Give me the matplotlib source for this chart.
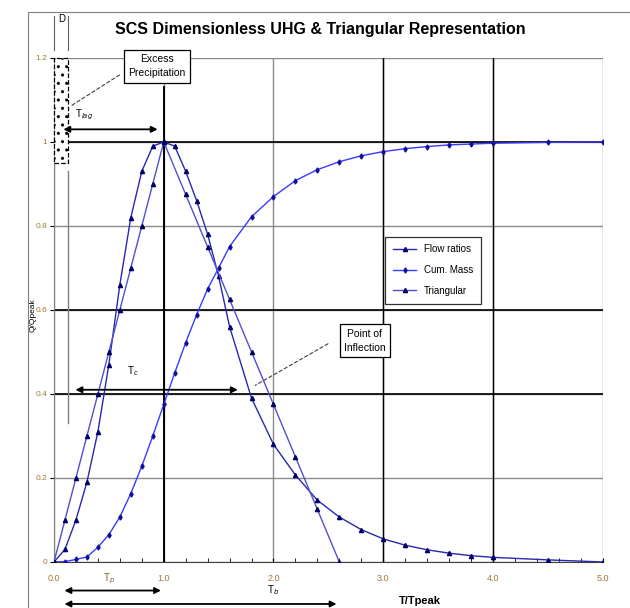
import numpy as np
import matplotlib
matplotlib.use('Agg')
import matplotlib.pyplot as plt
from matplotlib.patches import Rectangle

plt.rcParams['font.family'] = ['Liberation Sans Narrow', 'Liberation Sans', 'DejaVu Sans']

# SCS dimensionless unit hydrograph table
t_ratio = [0.0, 0.1, 0.2, 0.3, 0.4, 0.5, 0.6, 0.7, 0.8, 0.9, 1.0, 1.1, 1.2, 1.3, 1.4, 1.5,
           1.6, 1.8, 2.0, 2.2, 2.4, 2.6, 2.8, 3.0, 3.2, 3.4, 3.6, 3.8, 4.0, 4.5, 5.0]
flow_ratio = [0.0, 0.03, 0.10, 0.19, 0.31, 0.47, 0.66, 0.82, 0.93, 0.99, 1.00, 0.99, 0.93, 0.86,
              0.78, 0.68, 0.56, 0.39, 0.28, 0.207, 0.147, 0.107, 0.077, 0.055, 0.040, 0.029,
              0.021, 0.015, 0.011, 0.005, 0.0]
cum_mass = [0.0, 0.001, 0.006, 0.012, 0.035, 0.065, 0.107, 0.163, 0.228, 0.300, 0.375, 0.450,
            0.522, 0.589, 0.650, 0.700, 0.751, 0.822, 0.870, 0.908, 0.934, 0.953, 0.967, 0.977,
            0.984, 0.989, 0.993, 0.995, 0.997, 0.999, 1.0]

# triangular representation
tri_t = [0.0, 0.1, 0.2, 0.3, 0.4, 0.5, 0.6, 0.7, 0.8, 0.9, 1.0, 1.2, 1.4, 1.6, 1.8, 2.0, 2.2, 2.4, 2.6]
tri_q = [0.0, 0.1, 0.2, 0.3, 0.4, 0.5, 0.6, 0.7, 0.8, 0.9, 1.0, 0.875, 0.75, 0.625, 0.5, 0.375,
         0.25, 0.125, 0.0]

x_ticks = [0, 1, 2, 3, 4, 5]
x_labels = ['0.0', '1.0', '2.0', '3.0', '4.0', '5.0']
y_ticks = [0, 0.2, 0.4, 0.6, 0.8, 1.0, 1.2]
y_labels = ['0', '0.2', '0.4', '0.6', '0.8', '1', '1.2']

tick_col = '#a07838'

fig = plt.figure(figsize=(6.3, 6.08), dpi=100)
fig.patches.append(Rectangle((0.045, -0.01), 0.96, 0.99, transform=fig.transFigure,
                             fill=False, edgecolor='#808080', linewidth=0.8))
ax = fig.add_axes([0.0857, 0.0757, 0.871, 0.829])

ax.plot(t_ratio, flow_ratio, color='#2828b0', linewidth=1.0, marker='^', markersize=3,
        markerfacecolor='#000070', markeredgecolor='#000070', label='Flow ratios', zorder=4)
ax.plot(t_ratio, cum_mass, color='#3a3aff', linewidth=1.0, marker='d', markersize=2.6,
        markerfacecolor='#1010a0', markeredgecolor='#1010a0', label='Cum. Mass', zorder=4)
ax.plot(tri_t, tri_q, color='#5050d0', linewidth=1.0, marker='^', markersize=3,
        markerfacecolor='#000060', markeredgecolor='#000060', label='Triangular', zorder=4)

ax.set_xlim(0, 5)
ax.set_ylim(0, 1.2)
ax.set_xticks(x_ticks)
ax.set_xticklabels(x_labels, color=tick_col, fontsize=6.5)
ax.set_xticks(np.arange(0, 5.01, 0.2), minor=True)
ax.set_yticks(y_ticks)
ax.set_yticklabels(y_labels, color=tick_col, fontsize=6)
ax.tick_params(axis='x', which='both', direction='in', length=3, pad=9)
ax.tick_params(axis='y', direction='out', length=3, pad=2)
ax.grid(True, which='major', color='#8a8a8a', linewidth=1.0)
for yy in [0.4, 0.6, 1.0]:
    ax.axhline(yy, color='black', linewidth=1.2, zorder=2)
for xx in [3, 4]:
    ax.axvline(xx, color='black', linewidth=1.0, zorder=2)
ax.plot([1, 1], [0, 1.13], color='black', linewidth=1.4, zorder=2, clip_on=False)
for s in ['top', 'right']:
    ax.spines[s].set_visible(False)
ax.spines['left'].set_color('#808080')
ax.spines['bottom'].set_color('#404040')

ax.text(3.33, -0.093, 'T/Tpeak', fontsize=8, fontweight='bold', ha='center', va='center')
fig.text(33 / 630, 0.482, 'Q/Qpeak', fontsize=6, rotation=90, ha='center', va='center')
ax.set_title('SCS Dimensionless UHG & Triangular Representation', fontsize=11.5,
             fontweight='bold', x=0.486, pad=17)

leg = ax.legend(loc='upper left', bbox_to_anchor=(0.595, 0.655), fontsize=7,
                frameon=True, fancybox=False, edgecolor='black', handlelength=2.4,
                borderpad=0.8, labelspacing=1.1)
leg.get_frame().set_linewidth(0.9)
leg.set_zorder(6)

# excess precipitation bar
ax.add_patch(Rectangle((0.0, 0.95), 0.13, 0.25, fill=True, facecolor='white', hatch='..',
                       edgecolor='black', linestyle='--', linewidth=0.9, zorder=5, clip_on=False))
ax.plot([0.13, 0.13], [0.33, 0.93], color='#808080', linewidth=1.0, zorder=3)
ax.plot([0.0, 0.0], [1.22, 1.3], color='#606060', linewidth=0.8, clip_on=False)
ax.plot([0.13, 0.13], [1.22, 1.3], color='#606060', linewidth=0.8, clip_on=False)
ax.text(0.07, 1.28, 'D', fontsize=7, ha='center', va='bottom')

ax.text(0.94, 1.18, 'Excess\nPrecipitation', fontsize=7.5, ha='center', va='center',
        linespacing=1.5, zorder=6,
        bbox=dict(boxstyle='square,pad=0.4', facecolor='white', edgecolor='black', linewidth=0.9))
ax.plot([0.6, 0.15], [1.16, 1.085], color='#404040', linewidth=0.8, linestyle='--', zorder=5)

# T lag arrow
ax.annotate('', xy=(0.97, 1.03), xytext=(0.06, 1.03),
            arrowprops=dict(arrowstyle='<|-|>', color='black', lw=1.3, mutation_scale=9), zorder=6)
ax.text(0.27, 1.065, 'T$_{lag}$', fontsize=7, ha='center', va='center')

# Tc arrow
ax.annotate('', xy=(1.70, 0.41), xytext=(0.17, 0.41),
            arrowprops=dict(arrowstyle='<|-|>', color='black', lw=1.3, mutation_scale=9), zorder=6)
ax.text(0.72, 0.455, 'T$_c$', fontsize=7, ha='center', va='center')

# point of inflection
ax.text(2.83, 0.527, 'Point of\nInflection', fontsize=7.5, ha='center', va='center',
        linespacing=1.5, zorder=6,
        bbox=dict(boxstyle='square,pad=0.4', facecolor='white', edgecolor='black', linewidth=0.9))
ax.plot([2.5, 1.83], [0.52, 0.42], color='#404040', linewidth=0.8, linestyle='--', zorder=5)

# Tp and Tb arrows below axis
ax.annotate('', xy=(1.0, -0.068), xytext=(0.07, -0.068), xycoords='data',
            arrowprops=dict(arrowstyle='<|-|>', color='black', lw=1.3, mutation_scale=9),
            annotation_clip=False)
ax.text(0.5, -0.04, 'T$_p$', fontsize=7, color='#806030', ha='center', va='center')
ax.annotate('', xy=(2.6, -0.1), xytext=(0.07, -0.1), xycoords='data',
            arrowprops=dict(arrowstyle='<|-|>', color='black', lw=1.3, mutation_scale=9),
            annotation_clip=False)
ax.text(2.0, -0.068, 'T$_b$', fontsize=7, ha='center', va='center')

fig.savefig('out.png', dpi=100)
